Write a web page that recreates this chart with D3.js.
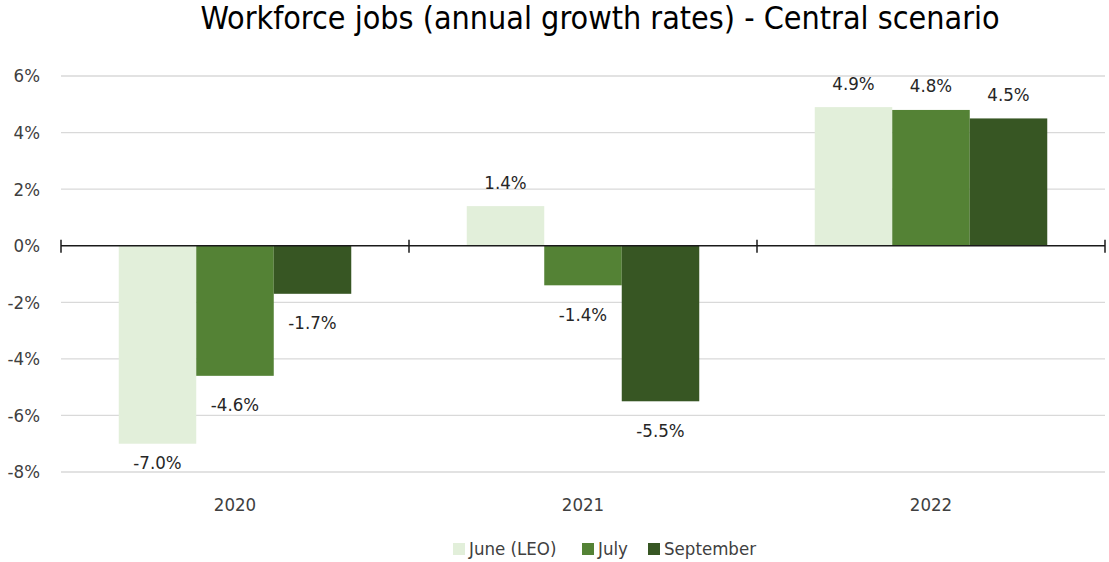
<!DOCTYPE html>
<html><head><meta charset="utf-8">
<script src="https://cdn.jsdelivr.net/npm/d3@7"></script>
<style>body{margin:0;background:#fff}svg{display:block}text{font-family:"Liberation Sans Narrow","DejaVu Sans Condensed","Open Sans",sans-serif}</style>
</head><body><svg id="c" width="1109" height="562"></svg>
<script>
const categories = ["2020","2021","2022"];
const seriesNames = ["June (LEO)","July","September"];
const june = [-7.0, 1.4, 4.9];
const july = [-4.6, -1.4, 4.8];
const september = [-1.7, -5.5, 4.5];
const yTicks = [-8,-6,-4,-2,0,2,4,6];
const colors = ["#e2efda","#548235","#375623"];
const series = [june, july, september];

const svg = d3.select("#c");
const L = 61, R = 1105, T = 76, B = 472;
const FS = 18.5;
const x = d3.scaleBand().domain(categories).range([L,R]).paddingInner(0).paddingOuter(0);
const y = d3.scaleLinear().domain([-8,6]).range([B,T]);
const inner = d3.scaleBand().domain(seriesNames).range([0,x.bandwidth()]).paddingOuter(0.745).paddingInner(0);

svg.append("text").attr("x",600).attr("y",29).attr("text-anchor","middle")
  .attr("font-size",32).attr("fill","#000").text("Workforce jobs (annual growth rates) - Central scenario");

// gridlines
svg.append("g").selectAll("line").data(yTicks.filter(d=>d!==0)).join("line")
  .attr("x1",L).attr("x2",R).attr("y1",d=>y(d)).attr("y2",d=>y(d))
  .attr("stroke","#d9d9d9").attr("stroke-width",1.3);

// y labels
svg.append("g").selectAll("text").data(yTicks).join("text")
  .attr("x",40).attr("y",d=>y(d)).attr("dy","0.35em").attr("text-anchor","end")
  .attr("font-size",FS).attr("fill","#404040").text(d=>d+"%");

// bars
series.forEach((vals,si)=>{
  svg.append("g").selectAll("rect").data(vals).join("rect")
    .attr("x",(d,i)=>x(categories[i])+inner(seriesNames[si]))
    .attr("width",inner.bandwidth())
    .attr("y",d=>y(Math.max(0,d)))
    .attr("height",d=>Math.abs(y(d)-y(0)))
    .attr("fill",colors[si]);
  svg.append("g").selectAll("text").data(vals).join("text")
    .attr("x",(d,i)=>x(categories[i])+inner(seriesNames[si])+inner.bandwidth()/2)
    .attr("y",d=>d>=0 ? y(d)-24 : Math.min(y(d)+29, B-9))
    .attr("dy","0.35em")
    .attr("text-anchor","middle").attr("font-size",FS).attr("fill","#262626")
    .text(d=>d.toFixed(1)+"%");
});

// zero axis
svg.append("line").attr("x1",L).attr("x2",R).attr("y1",y(0)).attr("y2",y(0))
  .attr("stroke","#1a1a1a").attr("stroke-width",1.5);
const tickXs = categories.map(c=>x(c)).concat([R]);
svg.append("g").selectAll("line").data(tickXs).join("line")
  .attr("x1",d=>d).attr("x2",d=>d).attr("y1",y(0)-6).attr("y2",y(0)+7)
  .attr("stroke","#1a1a1a").attr("stroke-width",1.5);

// category labels
svg.append("g").selectAll("text").data(categories).join("text")
  .attr("x",d=>x(d)+x.bandwidth()/2).attr("y",505).attr("dy","0.35em").attr("text-anchor","middle")
  .attr("font-size",FS).attr("fill","#404040").text(d=>d);

// legend
const legX = [453,582,648];
const lg = svg.append("g");
seriesNames.forEach((n,i)=>{
  lg.append("rect").attr("x",legX[i]).attr("y",543).attr("width",12).attr("height",12).attr("fill",colors[i]);
  lg.append("text").attr("x",legX[i]+16).attr("y",549).attr("dy","0.35em").attr("font-size",FS).attr("fill","#404040").text(n);
});
</script></body></html>
